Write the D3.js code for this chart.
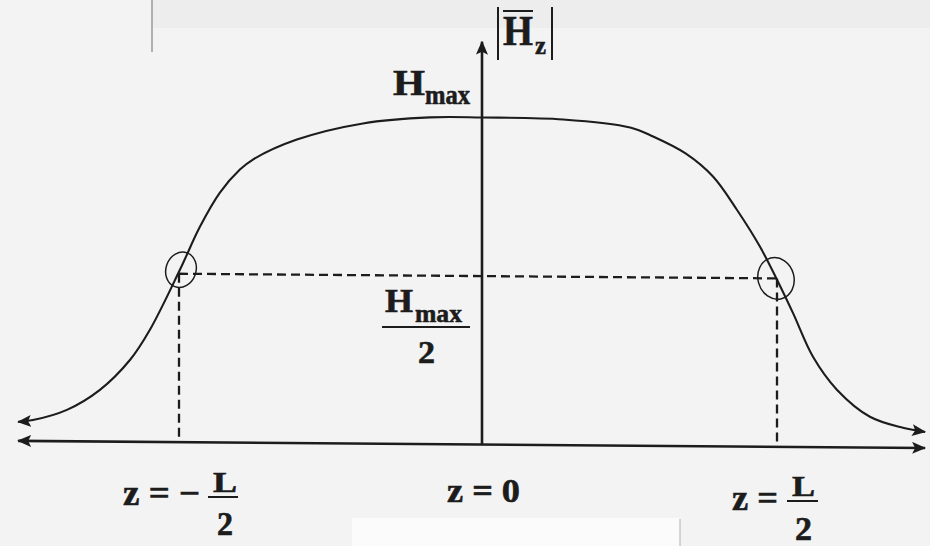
<!DOCTYPE html>
<html><head><meta charset="utf-8">
<script src="https://cdn.jsdelivr.net/npm/d3@7"></script>
<style>html,body{margin:0;padding:0;background:#f3f3f3;} svg{display:block;}</style>
</head><body>
<script>
// ---- data (z in units of L/2, H in units of Hmax) ----
const zVals = [-1.531,-1.482,-1.370,-1.261,-1.162,-1.096,-0.997,-0.931,-0.865,-0.799,-0.756,-0.611,-0.393,-0.172,0,0.275,0.502,0.580,0.690,0.783,0.864,0.942,1.0,1.054,1.122,1.203,1.315,1.427,1.502];
const hVals = [0.058,0.064,0.096,0.158,0.250,0.343,0.527,0.659,0.764,0.835,0.866,0.928,0.979,0.999,1.0,0.996,0.973,0.946,0.895,0.825,0.724,0.612,0.511,0.410,0.276,0.176,0.094,0.061,0.049];
const markZ = [-1, 1];          // z = -L/2, z = L/2
const halfLevel = [0.515];      // Hmax/2 guide
const axisZ = [-1.531, 1.502];  // horizontal axis extent
const axisH = [0, 1.232];       // vertical axis extent
const W = 930, H = 546;
const skewK = 0.0078;

const svg = d3.select("body").append("svg").attr("width", W).attr("height", H);
svg.append("rect").attr("width", W).attr("height", H).attr("fill", "#f3f3f3");
svg.append("rect").attr("x", 152).attr("y", 0).attr("width", 778).attr("height", 28).attr("fill", "#ededed");
svg.append("rect").attr("x", 352).attr("y", 518).attr("width", 328).attr("height", 28).attr("fill", "#fbfbfb");
svg.append("line").attr("x1", 152).attr("x2", 152).attr("y1", 0).attr("y2", 52).attr("stroke", "#9a9a9a").attr("stroke-width", 1.5);
svg.append("line").attr("x1", 680).attr("x2", 680).attr("y1", 519).attr("y2", 546).attr("stroke", "#bdbdbd").attr("stroke-width", 1.2);

const defs = svg.append("defs");
defs.append("marker").attr("id", "arr").attr("viewBox", "0 0 14 12")
  .attr("refX", 13).attr("refY", 6).attr("markerWidth", 14).attr("markerHeight", 12)
  .attr("markerUnits", "userSpaceOnUse").attr("orient", "auto-start-reverse")
  .append("path").attr("d", "M0,0 L14,6 L0,12 L3,6 Z").attr("fill", "#1c1c1c");

const x = d3.scaleLinear().domain([-1, 0, 1]).range([179, 482, 777]);
const y = d3.scaleLinear().domain([0, 1]).range([444.5, 117.5]);

const g = svg.append("g")
  .attr("transform", `translate(0,${-482 * skewK}) skewY(${Math.atan(skewK) * 180 / Math.PI})`);

const ink = "#1c1c1c";
// horizontal axis
g.append("line").attr("x1", x(axisZ[0])).attr("x2", x(axisZ[1])).attr("y1", y(0)).attr("y2", y(0))
  .attr("stroke", ink).attr("stroke-width", 2.6)
  .attr("marker-start", "url(#arr)").attr("marker-end", "url(#arr)");
// vertical axis
g.append("line").attr("x1", x(0)).attr("x2", x(0)).attr("y1", y(axisH[0])).attr("y2", y(axisH[1]))
  .attr("stroke", ink).attr("stroke-width", 2.6).attr("marker-end", "url(#arr)");

// dashed guides
const dash = "9,5";
g.append("line").attr("x1", x(markZ[0])).attr("x2", x(markZ[1]))
  .attr("y1", y(halfLevel[0])).attr("y2", y(halfLevel[0]))
  .attr("stroke", ink).attr("stroke-width", 2.3).attr("stroke-dasharray", dash);
markZ.forEach(z => {
  g.append("line").attr("x1", x(z)).attr("x2", x(z)).attr("y1", y(halfLevel[0])).attr("y2", y(0))
    .attr("stroke", ink).attr("stroke-width", 2.3).attr("stroke-dasharray", dash);
});

// curve
const pts = zVals.map((z, i) => [z, hVals[i]]);
g.append("path").datum(pts)
  .attr("d", d3.line().x(d => x(d[0])).y(d => y(d[1])).curve(d3.curveCatmullRom.alpha(0.5)))
  .attr("fill", "none").attr("stroke", ink).attr("stroke-width", 2.1)
  .attr("marker-start", "url(#arr)").attr("marker-end", "url(#arr)");

// hand-drawn loops at crossings
g.append("ellipse").attr("cx", x(markZ[0]) + 2).attr("cy", y(halfLevel[0]) - 4)
  .attr("rx", 15).attr("ry", 18).attr("transform", `rotate(20,${x(markZ[0]) + 2},${y(halfLevel[0]) - 4})`)
  .attr("fill", "none").attr("stroke", ink).attr("stroke-width", 1.5);
g.append("ellipse").attr("cx", x(markZ[1]) - 1).attr("cy", y(halfLevel[0]))
  .attr("rx", 18).attr("ry", 21).attr("transform", `rotate(-15,${x(markZ[1]) - 1},${y(halfLevel[0])})`)
  .attr("fill", "none").attr("stroke", ink).attr("stroke-width", 1.5);

// ---- text ----
const font = "'Liberation Serif','Times New Roman',serif";
function txt(s, xx, yy, size, len) {
  const t = svg.append("text").attr("x", xx).attr("y", yy).text(s)
    .attr("font-family", font).attr("font-weight", "bold").attr("font-size", size)
    .attr("fill", ink).attr("stroke", ink).attr("stroke-width", 0.6);
  if (len) t.attr("textLength", len).attr("lengthAdjust", "spacingAndGlyphs");
  return t;
}
function rule(x1, x2, yy, w) {
  svg.append("line").attr("x1", x1).attr("x2", x2).attr("y1", yy).attr("y2", yy)
    .attr("stroke", ink).attr("stroke-width", w || 2);
}
// |H̄z|
svg.append("line").attr("x1", 498).attr("x2", 498).attr("y1", 7).attr("y2", 60).attr("stroke", ink).attr("stroke-width", 2);
svg.append("line").attr("x1", 552).attr("x2", 552).attr("y1", 7).attr("y2", 60).attr("stroke", ink).attr("stroke-width", 2);
txt("H", 503, 45, 42, 30);
rule(503, 533, 11, 2);
txt("z", 535, 54, 26, 11);
// Hmax
txt("H", 393, 95, 35, 32);
txt("max", 425, 104, 27, 45);
// Hmax / 2
txt("H", 385, 312, 33, 28);
txt("max", 415, 322, 26, 47);
rule(382, 470, 327, 2);
txt("2", 418, 363, 31, 17);
// z = 0
txt("z = 0", 447, 502, 34, 73);
// z = -L/2
txt("z = −", 123, 505, 35, 77);
txt("L", 213, 492, 30, 24);
rule(208, 238, 497, 2);
txt("2", 217, 535, 34, 16);
// z = L/2
txt("z =", 732, 510, 35, 46);
txt("L", 792, 496, 30, 23);
rule(787, 818, 501, 2);
txt("2", 795, 540, 34, 17);
</script>
</body></html>
